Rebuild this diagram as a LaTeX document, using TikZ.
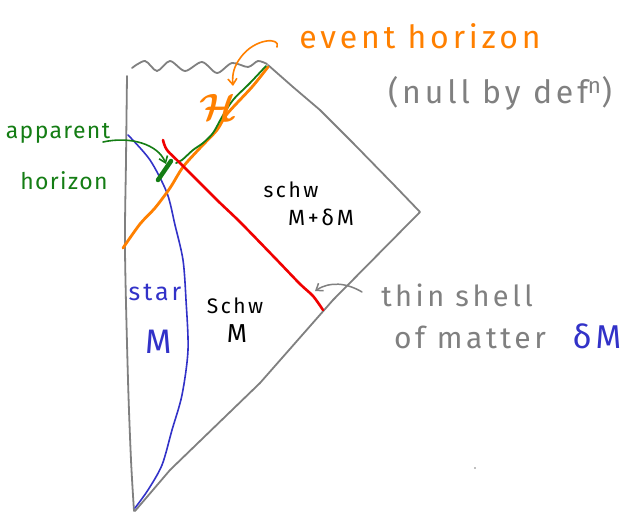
\documentclass[tikz,border=0pt]{standalone}
\usepackage{amsmath}
\usepackage{fontspec}
\setmainfont{Fira Sans}
\newfontfamily\handfont[LetterSpace=12]{Fira Sans}
\newfontfamily\tightfont[LetterSpace=6]{Fira Sans}
\usetikzlibrary{arrows.meta}
\definecolor{pgray}{RGB}{128,128,128}
\definecolor{porange}{RGB}{255,128,0}
\definecolor{pgreen}{RGB}{20,125,20}
\definecolor{pblue}{RGB}{50,50,200}
\definecolor{pred}{RGB}{240,0,0}
\newcommand{\hsz}[1]{\handfont\fontsize{#1}{#1}\selectfont}
\newcommand{\tsz}[1]{\tightfont\fontsize{#1}{#1}\selectfont}
\begin{document}
\begin{tikzpicture}[x=1pt,y=-1pt,line cap=round,line join=round,
  bound/.style={pgray,line width=1.8pt},
  lbl/.style={inner sep=0pt,anchor=base},
  barb/.style={-{Straight Barb[length=6pt,width=9pt]}}]
\useasboundingbox (0,0) rectangle (626,516);
\fill[white] (0,0) rectangle (626,516);
% named points
\coordinate (top) at (268,65);
\coordinate (rv) at (420,212);
\coordinate (bot) at (135,511);
% boundaries
\draw[bound] plot[smooth] coordinates {(127,76) (126,160) (125,250) (128,380) (131,460) (134,511)};
\draw[bound] (top) -- (293,87) -- (320,110) -- (353,143) -- (395,186) -- (rv) -- (333,300) -- (260,383) -- (170,470) -- (bot);
\draw[bound] plot[smooth] coordinates {(132,68) (145,61) (157,71) (170,61) (185,71) (202,62) (217,73) (232,63) (248,67) (258,61) (267,64)};
% star surface
\draw[pblue,line width=1.6pt] plot[smooth] coordinates {(128,135) (150,160) (167,193) (175,225) (183,260) (186,300) (188,350) (182,395) (172,430) (162,465) (148,490) (135,508)};
% event horizon
\draw[porange,line width=2.8pt] plot[smooth] coordinates {(123,248) (140,224) (155,208) (170,188) (183,167) (200,148) (217,130) (227,114) (252,87) (268,67)};
% apparent horizon
\draw[pgreen,line width=1.8pt] plot[smooth] coordinates {(176,163) (182,160) (193,150) (203,143) (213,133) (222,117) (233,100) (250,83) (266,66)};
\draw[pgreen,line width=4.5pt] (158,180) -- (171,161);
% thin shell
\draw[pred,line width=2.6pt] plot[smooth] coordinates {(163,140) (167,150) (182,165) (217,200) (240,222) (275,258) (300,284) (313,296) (323,310)};
% labels
\node[lbl,porange] (eh) at (420,49) {\hsz{32}event horizon};
\node[lbl,pgray] (nd) at (500,103) {\hsz{32}(null by def\textsuperscript{n})};
\node[lbl,pgreen] (ap) at (58,139) {\tsz{23}apparent};
\node[lbl,pgreen] (ah) at (64,189) {\tsz{23}horizon};
\node[lbl,pblue] (st) at (155,300) {\hsz{25}star};
\node[lbl,pblue] (sm) at (159,353) {\hsz{34}M};
\node[lbl] (s1) at (235,313) {\hsz{21}Schw};
\node[lbl] (s1m) at (237,342) {\hsz{26}M};
\node[lbl] (s2) at (291,197) {\hsz{21}schw};
\node[lbl] (s2m) at (321,225) {\hsz{22}M+δM};
\node[lbl,pgray] (ts) at (457,306) {\hsz{29}thin shell};
\node[lbl,pgray] (om) at (470,348) {\hsz{30}of matter};
\node[lbl,pblue] (dm) at (597,348) {\hsz{33}δM};
\node[porange,inner sep=0pt] (hh) at (218,107) {\scalebox{3.8}{$\boldsymbol{\mathcal{H}}$}};
% arrows
\coordinate (ehs) at (277,47);
\coordinate (eht) at (233,86);
\draw[porange,line width=1.6pt,barb] (ehs) .. controls (281,37) and (255,38) .. (241,57) .. controls (234,66) and (232,74) .. (eht);
\coordinate (aps) at (103,142);
\coordinate (apt) at (166,164);
\draw[pgreen,line width=1.6pt,barb] (aps) .. controls (130,136) and (158,144) .. (apt);
\coordinate (tss) at (362,292);
\coordinate (tst) at (315,291);
\draw[pgray,line width=1.5pt,barb] (tss) .. controls (347,283) and (330,281) .. (tst);
\fill[pgray] (475,468) circle (0.9);
\end{tikzpicture}
\end{document}
